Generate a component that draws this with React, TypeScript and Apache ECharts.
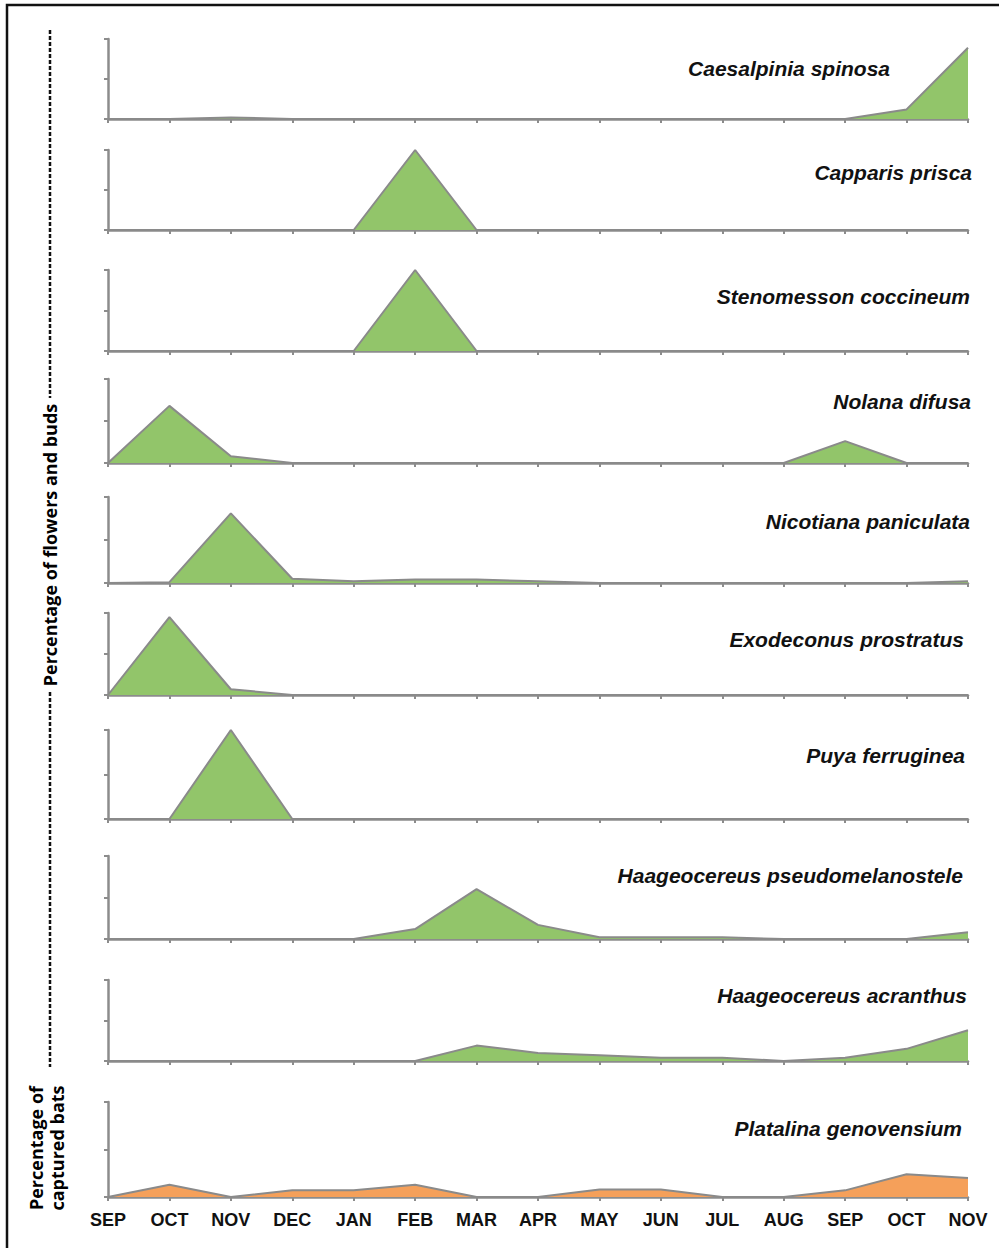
import React, { useEffect, useRef } from "react";
import * as echarts from "echarts";

// ---------- data ----------
const months = ["SEP", "OCT", "NOV", "DEC", "JAN", "FEB", "MAR", "APR", "MAY", "JUN", "JUL", "AUG", "SEP", "OCT", "NOV"];

const species = [
  "Caesalpinia spinosa",
  "Capparis prisca",
  "Stenomesson coccineum",
  "Nolana difusa",
  "Nicotiana paniculata",
  "Exodeconus prostratus",
  "Puya ferruginea",
  "Haageocereus pseudomelanostele",
  "Haageocereus acranthus",
  "Platalina genovensium",
];

const caesalpinia = [0, 0, 2, 0, 0, 0, 0, 0, 0, 0, 0, 0, 0, 12, 89];
const capparis = [0, 0, 0, 0, 0, 100, 0, 0, 0, 0, 0, 0, 0, 0, 0];
const stenomesson = [0, 0, 0, 0, 0, 100, 0, 0, 0, 0, 0, 0, 0, 0, 0];
const nolana = [0, 68, 8, 0, 0, 0, 0, 0, 0, 0, 0, 0, 26, 0, 0];
const nicotiana = [0, 1, 81, 5, 2, 4, 4, 2, 0, 0, 0, 0, 0, 0, 2];
const exodeconus = [0, 95, 7, 0, 0, 0, 0, 0, 0, 0, 0, 0, 0, 0, 0];
const puya = [0, 0, 100, 0, 0, 0, 0, 0, 0, 0, 0, 0, 0, 0, 0];
const haagPseudo = [0, 0, 0, 0, 0, 12, 60, 17, 2, 2, 2, 0, 0, 0, 8];
const haagAcranthus = [0, 0, 0, 0, 0, 0, 19, 10, 7, 4, 4, 0, 4, 15, 38];
const platalina = [0, 13, 0, 7, 7, 13, 0, 0, 8, 8, 0, 0, 7, 24, 20];

const seriesValues = [caesalpinia, capparis, stenomesson, nolana, nicotiana, exodeconus, puya, haagPseudo, haagAcranthus, platalina];

const flowersTitle = "Percentage of flowers and buds";
const batsTitle = "Percentage of\ncaptured bats";

// ---------- layout ----------
const panelTop = [39, 150, 270, 379, 497, 613, 730, 856, 980, 1102];
const panelBase = [119, 230, 351, 463, 583, 695, 819, 939, 1061, 1197];
const labelRight = [890, 972, 970, 971, 970, 964, 965, 963, 967, 962];
const labelY = [68, 172, 296, 401, 521, 639, 755, 875, 995, 1128];

const GREEN = "#92C56A";
const ORANGE = "#F5A05A";
const AXIS = "#8C8C8C";

export default function App() {
  const ref = useRef<HTMLDivElement | null>(null);

  useEffect(() => {
    if (!ref.current) return;
    const chart = echarts.init(ref.current, null, { renderer: "svg" });
    const n = seriesValues.length;
    const grids: any[] = [];
    const xAxes: any[] = [];
    const yAxes: any[] = [];
    const series: any[] = [];
    for (let i = 0; i < n; i++) {
      const last = i === n - 1;
      grids.push({ left: 108, right: 999 - 968, top: panelTop[i], height: panelBase[i] - panelTop[i] });
      xAxes.push({
        type: "category",
        gridIndex: i,
        data: months,
        boundaryGap: false,
        axisLine: { show: true, lineStyle: { color: AXIS, width: 2.5 } },
        axisTick: { show: true, length: 4, lineStyle: { color: AXIS, width: 2 } },
        axisLabel: last
          ? { show: true, color: "#111", fontFamily: "Liberation Sans, Arial, sans-serif", fontWeight: "bold", fontSize: 18, margin: 14, interval: 0 }
          : { show: false },
        splitLine: { show: false },
      });
      yAxes.push({
        type: "value",
        gridIndex: i,
        min: 0,
        max: 100,
        interval: 50,
        axisLine: { show: true, lineStyle: { color: AXIS, width: 2.5 } },
        axisTick: { show: true, length: 4, lineStyle: { color: AXIS, width: 2 } },
        axisLabel: { show: false },
        splitLine: { show: false },
      });
      series.push({
        type: "line",
        xAxisIndex: i,
        yAxisIndex: i,
        data: seriesValues[i],
        symbol: "none",
        lineStyle: { color: "#8A8A8A", width: 2 },
        areaStyle: { color: last ? ORANGE : GREEN, opacity: 1 },
        z: 1,
      });
    }

    const graphics: any[] = [
      {
        type: "rect",
        shape: { x: 7, y: 5, width: 1010, height: 1260 },
        style: { fill: "none", stroke: "#111", lineWidth: 2.5 },
        silent: true,
      },
      {
        type: "line",
        shape: { x1: 50, y1: 30, x2: 50, y2: 398 },
        style: { stroke: "#111", lineWidth: 2.5, lineDash: [4, 2] },
      },
      {
        type: "line",
        shape: { x1: 50, y1: 692, x2: 50, y2: 1067 },
        style: { stroke: "#111", lineWidth: 2.5, lineDash: [4, 2] },
      },
      {
        type: "text",
        x: 50,
        y: 545,
        rotation: Math.PI / 2,
        style: {
          text: flowersTitle,
          fill: "#000",
          font: "bold 18px 'Open Sans', sans-serif",
          align: "center",
          verticalAlign: "middle",
          backgroundColor: "#fff",
        },
      },
      {
        type: "text",
        x: 46,
        y: 1148,
        rotation: Math.PI / 2,
        style: {
          text: batsTitle,
          fill: "#000",
          font: "bold 18px 'Open Sans', sans-serif",
          align: "center",
          verticalAlign: "middle",
          lineHeight: 21,
        },
      },
    ];
    for (let i = 0; i < n; i++) {
      graphics.push({
        type: "text",
        x: labelRight[i],
        y: labelY[i],
        style: {
          text: species[i],
          fill: "#111",
          font: "italic bold 21px 'Liberation Sans', Arial, sans-serif",
          align: "right",
          verticalAlign: "middle",
        },
      });
    }

    chart.setOption({
      animation: false,
      backgroundColor: "#fff",
      grid: grids,
      xAxis: xAxes,
      yAxis: yAxes,
      series,
      graphic: graphics,
    });
    return () => chart.dispose();
  }, []);

  return (
    <div
      ref={ref}
      style={{ position: "absolute", left: 0, top: 0, width: 999, height: 1248, background: "#fff" }}
    />
  );
}
